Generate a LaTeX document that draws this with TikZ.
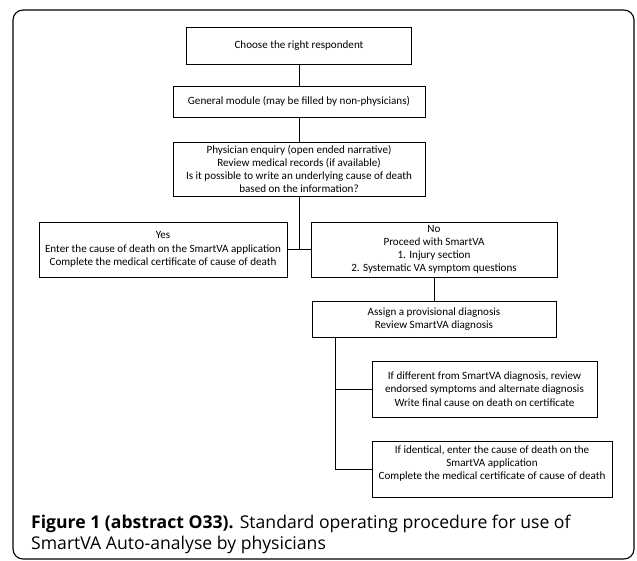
\documentclass[tikz,border=0pt]{standalone}
\usepackage{fontspec}
\setmainfont{Carlito}
\newfontfamily\capfont{Open Sans}
\begin{document}
\begin{tikzpicture}[x=1pt,y=-1pt,
  box/.style={draw, line width=0.75pt, inner sep=0pt, align=center,
    font=\fontsize{11.1}{13.2}\selectfont},
  conn/.style={line width=1pt},
  captext/.style={inner sep=0pt, anchor=base west, font=\capfont\fontsize{17.6}{22}\selectfont}]
\useasboundingbox (0,0) rectangle (637,561);
\draw[line width=1.1pt, rounded corners=10pt] (13,10) rectangle (634,559);

\node[box, minimum width=225pt, minimum height=37pt] (b1) at (299,45.5) {Choose the right respondent};
\node[box, minimum width=252pt, minimum height=31pt] (b2) at (299,101.5) {General module (may be filled by non-physicians)};
\node[box, minimum width=252pt, minimum height=54pt] (b3) at (299,169) {Physician enquiry (open ended narrative)\\Review medical records (if available)\\Is it possible to write an underlying cause of death\\based on the information?};
\node[box, minimum width=248pt, minimum height=55pt] (yes) at (163,249.5) {Yes\\Enter the cause of death on the SmartVA application\\Complete the medical certificate of cause of death};
\node[box, minimum width=246pt, minimum height=55pt] (no) at (434,249.5) {No\\Proceed with SmartVA\\1. Injury section\\2. Systematic VA symptom questions};
\node[box, minimum width=244pt, minimum height=36pt] (assign) at (434,319) {Assign a provisional diagnosis\\Review SmartVA diagnosis};
\node[box, minimum width=225pt, minimum height=56pt] (diff) at (484.5,389) {If different from SmartVA diagnosis, review\\endorsed symptoms and alternate diagnosis\\Write final cause on death on certificate};
\node[box, minimum width=240pt, minimum height=56pt] (ident) at (492,469) {If identical, enter the cause of death on the\\SmartVA application\\Complete the medical certificate of cause of death\\~};

\draw[conn] (b1.south) -- (b1.south |- b2.north);
\draw[conn] (b2.south) -- (b2.south |- b3.north);
\draw[conn] (b3.south) -- (b3.south |- yes.east);
\draw[conn] (yes.east) -- (no.west);
\draw[conn] (no.south) -- (no.south |- assign.north);
\coordinate (trunk) at ([xshift=24pt]assign.south west);
\draw[conn] (trunk) |- (ident.west);
\draw[conn] (trunk |- diff.west) -- (diff.west);

\node[captext] (cap1) at (31,528) {\textbf{Figure 1 (abstract O33).} Standard operating procedure for use of};
\node[captext] (cap2) at (31,549) {SmartVA Auto-analyse by physicians};
\end{tikzpicture}
\end{document}
